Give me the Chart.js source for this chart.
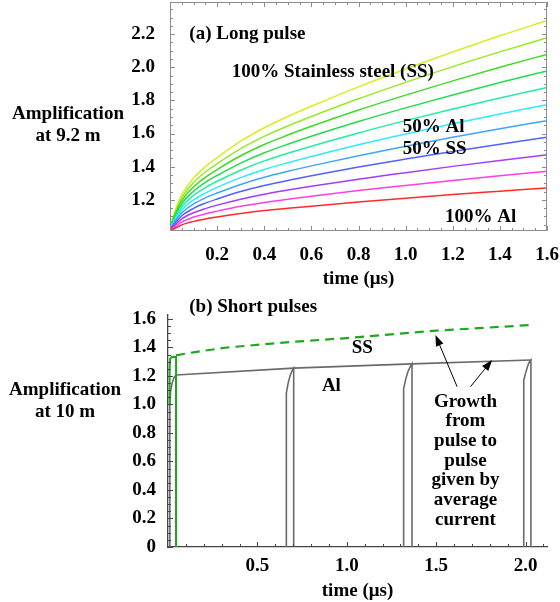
<!DOCTYPE html>
<html><head><meta charset="utf-8">
<script src="https://cdn.jsdelivr.net/npm/chart.js@4.4.1/dist/chart.umd.min.js"></script>
<style>
html,body{margin:0;padding:0;background:#fff;}
#wrap{position:relative;width:560px;height:602px;overflow:hidden;}
.box{position:absolute;left:0;width:560px;}
</style></head><body>
<div id="wrap">
<div class="box" style="top:0;height:290px"><canvas id="c1" width="560" height="290"></canvas></div>
<div class="box" style="top:290px;height:312px"><canvas id="c2" width="560" height="312"></canvas></div>
</div>
<script>
// ===== (a) Long pulse: amplification at 9.2 m vs time (µs) =====
const longTime = [0, 0.01, 0.02, 0.05, 0.1, 0.15, 0.2, 0.3, 0.4, 0.5, 0.6, 0.8, 1.0, 1.2, 1.4, 1.6];
const ampAl100 = [1.02, 1.022, 1.027, 1.049, 1.070, 1.085, 1.097, 1.118, 1.135, 1.149, 1.162, 1.187, 1.210, 1.232, 1.252, 1.272];
const ampSS10  = [1.02, 1.026, 1.037, 1.067, 1.096, 1.116, 1.132, 1.161, 1.184, 1.204, 1.222, 1.256, 1.287, 1.317, 1.345, 1.372];
const ampSS20  = [1.02, 1.031, 1.047, 1.085, 1.122, 1.147, 1.168, 1.204, 1.234, 1.259, 1.282, 1.325, 1.364, 1.402, 1.438, 1.472];
const ampSS30  = [1.02, 1.038, 1.058, 1.104, 1.149, 1.180, 1.205, 1.250, 1.286, 1.317, 1.345, 1.398, 1.446, 1.492, 1.536, 1.578];
const ampSS40  = [1.02, 1.044, 1.068, 1.122, 1.175, 1.212, 1.241, 1.293, 1.336, 1.372, 1.405, 1.466, 1.523, 1.578, 1.629, 1.678];
const ampSS50  = [1.02, 1.050, 1.077, 1.139, 1.200, 1.241, 1.275, 1.334, 1.383, 1.424, 1.462, 1.533, 1.598, 1.659, 1.718, 1.774];
const ampSS60  = [1.02, 1.057, 1.088, 1.158, 1.227, 1.274, 1.312, 1.379, 1.435, 1.481, 1.524, 1.604, 1.678, 1.748, 1.815, 1.878];
const ampSS70  = [1.02, 1.064, 1.098, 1.176, 1.252, 1.305, 1.347, 1.422, 1.484, 1.536, 1.584, 1.673, 1.755, 1.833, 1.908, 1.978];
const ampSS80  = [1.02, 1.070, 1.108, 1.194, 1.278, 1.336, 1.383, 1.466, 1.534, 1.591, 1.644, 1.742, 1.832, 1.918, 2.000, 2.078];
const ampSS90  = [1.02, 1.077, 1.118, 1.212, 1.304, 1.368, 1.418, 1.509, 1.583, 1.646, 1.703, 1.810, 1.909, 2.004, 2.093, 2.178];
const ampSS100 = [1.02, 1.083, 1.128, 1.231, 1.331, 1.400, 1.455, 1.554, 1.635, 1.703, 1.765, 1.882, 1.990, 2.092, 2.190, 2.282];
const longSeries = [ampAl100, ampSS10, ampSS20, ampSS30, ampSS40, ampSS50, ampSS60, ampSS70, ampSS80, ampSS90, ampSS100];
const longNames = ['100% Al','10% SS','20% SS','30% SS','40% SS','50% SS','60% SS','70% SS','80% SS','90% SS','100% SS'];
const longXTicks = [0.2, 0.4, 0.6, 0.8, 1.0, 1.2, 1.4, 1.6];
const longYTicks = [1.2, 1.4, 1.6, 1.8, 2.0, 2.2];

// ===== (b) Short pulses: amplification at 10 m vs time (µs) =====
const ssPulseTime = [0.008, 0.009, 0.012, 0.020, 0.045, 0.045];
const ssPulseAmp  = [1.00, 1.25, 1.32, 1.333, 1.335, 0];
const ssAvgTime = [0.045, 0.15, 0.33, 0.70, 1.00, 1.50, 2.02];
const ssAvgAmp  = [1.345, 1.368, 1.400, 1.440, 1.466, 1.518, 1.557];
const alPulseTime = [0.010, 0.010, 0.015, 0.025, 0.035, 0.045, 0.045, null,
                     0.662, 0.662, 0.672, 0.685, 0.695, 0.703, 0.703, null,
                     1.318, 1.318, 1.330, 1.342, 1.355, 1.365, 1.365, null,
                     1.990, 1.990, 2.000, 2.012, 2.022, 2.030, 2.030];
const alPulseAmp  = [0, 1.00, 1.10, 1.16, 1.19, 1.207, 0, null,
                     0, 1.08, 1.15, 1.21, 1.24, 1.255, 0, null,
                     0, 1.11, 1.18, 1.23, 1.265, 1.285, 0, null,
                     0, 1.17, 1.22, 1.27, 1.30, 1.312, 0];
const alAvgTime = [0.045, 0.703, 1.365, 2.030];
const alAvgAmp  = [1.207, 1.255, 1.285, 1.312];
const shortXTicks = [0.5, 1.0, 1.5, 2.0];
const shortYTicks = [0, 0.2, 0.4, 0.6, 0.8, 1.0, 1.2, 1.4, 1.6];
const growthText = ['Growth','from','pulse to','pulse','given by','average','current'];

// ===== styles =====
const FONT = '"Liberation Serif","Times New Roman",serif';
Chart.defaults.font.family = FONT;
Chart.defaults.color = '#000';
const longColors = ['#ff2a2a','#ff3ee8','#a23cff','#4f62ff','#3fa4ff','#2eeaff','#22eea0','#22dc4c','#3cdc22','#96ea22','#d6ee22'];
const tickFont = {family: FONT, size: 19, weight: 'bold'};

function pts(xs, ys) { return xs.map((x, i) => ({x: x, y: ys[i]})); }

function drawText(ctx, text, x, y, align) {
  ctx.save();
  ctx.font = 'bold 19px ' + FONT;
  ctx.fillStyle = '#000';
  ctx.textAlign = align || 'left';
  ctx.textBaseline = 'middle';
  ctx.fillText(text, x, y);
  ctx.restore();
}
function tickMarks(ctx, chart, axis, values, len, sides, color) {
  const a = chart.chartArea, s = chart.scales[axis];
  ctx.save();
  ctx.strokeStyle = color; ctx.lineWidth = 1;
  ctx.beginPath();
  values.forEach(v => {
    const p = Math.round(s.getPixelForValue(v)) + 0.5;
    if (axis === 'x') {
      if (sides.indexOf('b') >= 0) { ctx.moveTo(p, a.bottom); ctx.lineTo(p, a.bottom - len); }
      if (sides.indexOf('t') >= 0) { ctx.moveTo(p, a.top); ctx.lineTo(p, a.top + len); }
    } else {
      if (sides.indexOf('l') >= 0) { ctx.moveTo(a.left, p); ctx.lineTo(a.left + len, p); }
      if (sides.indexOf('r') >= 0) { ctx.moveTo(a.right, p); ctx.lineTo(a.right - len, p); }
    }
  });
  ctx.stroke();
  ctx.restore();
}
function steps(from, to, step) { const r = []; for (let v = from; v <= to + 1e-9; v += step) r.push(+v.toFixed(3)); return r; }
function arrow(ctx, x1, y1, x2, y2) {
  const ang = Math.atan2(y2 - y1, x2 - x1), L = 11, W = 4;
  ctx.save();
  ctx.strokeStyle = '#000'; ctx.fillStyle = '#000'; ctx.lineWidth = 1;
  ctx.beginPath(); ctx.moveTo(x1, y1); ctx.lineTo(x2 - Math.cos(ang) * L * 0.8, y2 - Math.sin(ang) * L * 0.8); ctx.stroke();
  ctx.beginPath();
  ctx.moveTo(x2, y2);
  ctx.lineTo(x2 - L * Math.cos(ang) + W * Math.sin(ang), y2 - L * Math.sin(ang) - W * Math.cos(ang));
  ctx.lineTo(x2 - L * Math.cos(ang) - W * Math.sin(ang), y2 - L * Math.sin(ang) + W * Math.cos(ang));
  ctx.closePath(); ctx.fill();
  ctx.restore();
}
function noPad(s) { s.paddingTop = 0; s.paddingBottom = 0; s.paddingLeft = 0; s.paddingRight = 0; }

// ===== chart (a) =====
const longAnno = [
  {text: '(a) Long pulse', x: 0.082, y: 2.198},
  {text: '100% Stainless steel (SS)', x: 0.262, y: 1.968},
  {text: '50% Al', x: 0.988, y: 1.638},
  {text: '50% SS', x: 0.988, y: 1.508},
  {text: '100% Al', x: 1.167, y: 1.094}
];
const longPlugin = {
  id: 'longDeco',
  afterDraw(chart) {
    const ctx = chart.ctx, a = chart.chartArea, sx = chart.scales.x, sy = chart.scales.y;
    ctx.save();
    ctx.strokeStyle = '#8c8c8c'; ctx.lineWidth = 1;
    ctx.beginPath();
    ctx.rect(Math.round(a.left) + 0.5, Math.round(a.top) + 0.5, Math.round(a.right - a.left) - 1, Math.round(a.bottom - a.top) - 1);
    ctx.stroke();
    ctx.restore();
    tickMarks(ctx, chart, 'x', steps(0, 1.6, 0.05), 3, 'bt', '#8c8c8c');
    tickMarks(ctx, chart, 'x', longXTicks, 5, 'bt', '#8c8c8c');
    tickMarks(ctx, chart, 'y', steps(1.05, 2.35, 0.05), 3, 'lr', '#8c8c8c');
    tickMarks(ctx, chart, 'y', longYTicks, 5, 'lr', '#8c8c8c');
    longAnno.forEach(t => drawText(ctx, t.text, sx.getPixelForValue(t.x), sy.getPixelForValue(t.y), 'left'));
    drawText(ctx, 'Amplification', 68, 114, 'center');
    drawText(ctx, 'at 9.2 m', 68, 136, 'center');
  }
};
new Chart(document.getElementById('c1'), {
  type: 'line',
  data: {
    datasets: longSeries.map((arr, i) => ({
      label: longNames[i], data: pts(longTime, arr),
      borderColor: longColors[i], borderWidth: 1.5, pointRadius: 0,
      cubicInterpolationMode: 'monotone', fill: false
    }))
  },
  options: {
    responsive: false, animation: false,
    layout: {padding: {left: 0, right: 13, top: 2, bottom: 0}},
    plugins: {legend: {display: false}, tooltip: {enabled: false}},
    scales: {
      x: {
        type: 'linear', min: 0, max: 1.6,
        afterBuildTicks: s => { s.ticks = longXTicks.map(v => ({value: v})); },
        afterFit: s => { s.height = 59; noPad(s); },
        grid: {display: false}, border: {display: false},
        ticks: {font: tickFont, color: '#000', padding: 5, autoSkip: false, maxRotation: 0, callback: v => Number(v).toFixed(1)},
        title: {display: true, text: 'time (μs)', font: {family: FONT, size: 19, weight: 'bold'}, color: '#000', padding: {top: 0, bottom: 0}}
      },
      y: {
        type: 'linear', min: 1.012, max: 2.394,
        afterBuildTicks: s => { s.ticks = longYTicks.map(v => ({value: v})); },
        afterFit: s => { s.width = 170; noPad(s); },
        grid: {display: false}, border: {display: false},
        ticks: {font: tickFont, color: '#000', padding: 7, autoSkip: false, callback: v => Number(v).toFixed(1)}
      }
    }
  },
  plugins: [longPlugin]
});

// ===== chart (b) =====
const shortAnno = [
  {text: '(b) Short pulses', x: 0.119, y: 1.684, align: 'left'},
  {text: 'SS', x: 1.087, y: 1.396, align: 'center'},
  {text: 'Al', x: 0.914, y: 1.13, align: 'center'}
];
const growthAnchor = {x: 1.664, y: 1.02};
const arrowsData = [
  {x1: 1.617, y1: 1.125, x2: 1.496, y2: 1.488},
  {x1: 1.692, y1: 1.125, x2: 1.813, y2: 1.312}
];
const shortPlugin = {
  id: 'shortDeco',
  afterDraw(chart) {
    const ctx = chart.ctx, sx = chart.scales.x, sy = chart.scales.y;
    tickMarks(ctx, chart, 'x', steps(0.1, 2.1, 0.1), 3, 'b', '#444');
    tickMarks(ctx, chart, 'x', shortXTicks, 5, 'b', '#444');
    tickMarks(ctx, chart, 'y', steps(0.05, 1.6, 0.05), 3, 'l', '#444');
    tickMarks(ctx, chart, 'y', shortYTicks, 5, 'l', '#444');
    shortAnno.forEach(t => drawText(ctx, t.text, sx.getPixelForValue(t.x), sy.getPixelForValue(t.y), t.align));
    const gx = sx.getPixelForValue(growthAnchor.x), gy = sy.getPixelForValue(growthAnchor.y);
    growthText.forEach((s, i) => drawText(ctx, s, gx, gy + i * 19.7, 'center'));
    arrowsData.forEach(r => arrow(ctx, sx.getPixelForValue(r.x1), sy.getPixelForValue(r.y1), sx.getPixelForValue(r.x2), sy.getPixelForValue(r.y2)));
    drawText(ctx, 'Amplification', 65, 100, 'center');
    drawText(ctx, 'at 10 m', 65, 122, 'center');
  }
};
new Chart(document.getElementById('c2'), {
  type: 'line',
  data: {
    datasets: [
      {label: 'SS pulse', data: pts(ssPulseTime, ssPulseAmp), borderColor: '#1fa81f', borderWidth: 2, pointRadius: 0, tension: 0},
      {label: 'SS average', data: pts(ssAvgTime, ssAvgAmp), borderColor: '#1fa81f', borderWidth: 2.2, borderDash: [9, 6], pointRadius: 0, tension: 0},
      {label: 'Al pulses', data: pts(alPulseTime, alPulseAmp), borderColor: '#6a6a6a', borderWidth: 1.6, pointRadius: 0, tension: 0, spanGaps: false},
      {label: 'Al average', data: pts(alAvgTime, alAvgAmp), borderColor: '#6a6a6a', borderWidth: 1.6, pointRadius: 0, tension: 0}
    ]
  },
  options: {
    responsive: false, animation: false,
    layout: {padding: {left: 0, right: 13, top: 25, bottom: 0}},
    plugins: {legend: {display: false}, tooltip: {enabled: false}},
    scales: {
      x: {
        type: 'linear', min: 0, max: 2.12,
        afterBuildTicks: s => { s.ticks = shortXTicks.map(v => ({value: v})); },
        afterFit: s => { s.height = 55; noPad(s); },
        grid: {display: false}, border: {display: true, color: '#444', width: 1.3},
        ticks: {font: tickFont, color: '#000', padding: 0, autoSkip: false, maxRotation: 0, callback: v => Number(v).toFixed(1)},
        title: {display: true, text: 'time (μs)', font: {family: FONT, size: 19, weight: 'bold'}, color: '#000', padding: {top: 0, bottom: 0}}
      },
      y: {
        type: 'linear', min: 0, max: 1.628,
        afterBuildTicks: s => { s.ticks = shortYTicks.map(v => ({value: v})); },
        afterFit: s => { s.width = 168; noPad(s); },
        grid: {display: false}, border: {display: true, color: '#444', width: 1.3},
        ticks: {font: tickFont, color: '#000', padding: 4, autoSkip: false, callback: v => Number(v) === 0 ? '0' : Number(v).toFixed(1)}
      }
    }
  },
  plugins: [shortPlugin]
});
</script>
</body></html>
